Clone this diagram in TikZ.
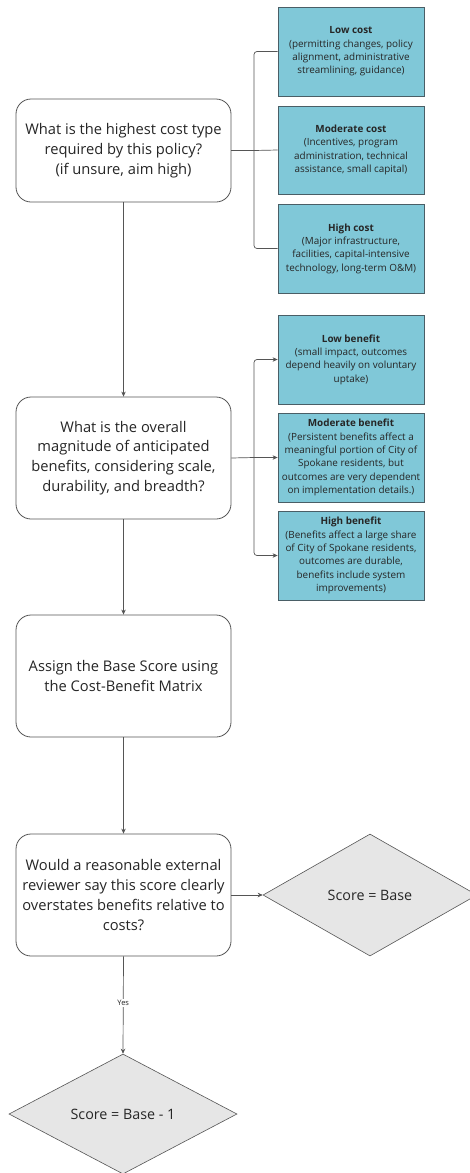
\documentclass[tikz,border=0pt]{standalone}
\usepackage{fontspec}
\setmainfont{Open Sans}
\usetikzlibrary{arrows.meta,shapes.geometric}
\definecolor{linec}{HTML}{555555}
\definecolor{boxfill}{HTML}{80C8D8}
\definecolor{boxline}{HTML}{4A5E66}
\definecolor{dfill}{HTML}{E6E6E6}
\definecolor{txt}{HTML}{262626}
\tikzset{
  qbox/.style={draw=linec, line width=0.8pt, rounded corners=15pt, fill=white, minimum width=215pt, align=center, text=txt, font=\fontsize{14.7}{19.8}\selectfont, inner sep=0pt},
  obox/.style={draw=boxline, line width=0.8pt, fill=boxfill, minimum width=146pt, align=center, text=txt, font=\fontsize{9.9}{13.3}\selectfont, inner sep=0pt},
  dia/.style={draw=linec, line width=0.6pt, fill=dfill, diamond, aspect=1.8, text=txt, font=\fontsize{14.3}{16}\selectfont, inner sep=0pt},
  conn/.style={draw=linec, line width=0.7pt},
  arr/.style={conn, -{Stealth[length=5pt,width=4.5pt]}},
}
\begin{document}
\begin{tikzpicture}[x=1pt,y=-1pt]
\useasboundingbox (0,0) rectangle (469,1173);
\fill[white] (0,0) rectangle (469,1173);
% question boxes
\node[qbox, minimum height=103pt] (q1) at (123.5,150.5) {What is the highest cost type\\required by this policy?\\(if unsure, aim high)};
\node[qbox, minimum height=122pt] (q2) at (123.5,458) {What is the overall\\magnitude of anticipated\\benefits, considering scale,\\durability, and breadth?};
\node[qbox, minimum height=122pt] (q3) at (123.5,676) {Assign the Base Score using\\the Cost-Benefit Matrix};
\node[qbox, minimum height=122pt] (q4) at (123.5,895) {Would a reasonable external\\reviewer say this score clearly\\overstates benefits relative to\\costs?};
% cost boxes
\node[obox, minimum height=89pt] (lc) at (351,51.5) {\textbf{Low cost}\\(permitting changes, policy\\alignment, administrative\\streamlining, guidance)};
\node[obox, minimum height=88pt] (mc) at (351,150) {\textbf{Moderate cost}\\(Incentives, program\\administration, technical\\assistance, small capital)};
\node[obox, minimum height=89pt] (hc) at (351,248.5) {\textbf{High cost}\\(Major infrastructure,\\facilities, capital-intensive\\technology, long-term O\&M)};
% benefit boxes
\node[obox, minimum height=89pt] (lb) at (351,359.5) {\textbf{Low benefit}\\(small impact, outcomes\\depend heavily on voluntary\\uptake)};
\node[obox, minimum height=89pt] (mb) at (351,457.5) {\textbf{Moderate benefit}\\(Persistent benefits affect a\\meaningful portion of City of\\Spokane residents, but\\outcomes are very dependent\\on implementation details.)};
\node[obox, minimum height=89pt] (hb) at (351,555.5) {\textbf{High benefit}\\(Benefits affect a large share\\of City of Spokane residents,\\outcomes are durable,\\benefits include system\\improvements)};
% diamonds
\node[dia, minimum width=214pt, minimum height=122pt] (d1) at (370,895) {Score = Base};
\node[dia, minimum width=228pt, minimum height=120pt] (d2) at (123,1114) {Score = Base - 1};
% cost bracket
\coordinate (j1) at (254,150.5);
\draw[conn] (q1.east) -- (j1);
\draw[conn, rounded corners=3pt] (j1) |- (lc.west);
\draw[conn, rounded corners=3pt] (j1) |- (hc.west);
\draw[conn] (j1) -- (mc.west);
% benefit bracket
\coordinate (j2) at (254,457.5);
\draw[conn] (q2.east) -- (j2);
\draw[arr, rounded corners=3pt] (j2) |- (lb.west);
\draw[arr, rounded corners=3pt] (j2) |- (hb.west);
\draw[arr] (j2) -- (mb.west);
% vertical flow
\draw[arr] (q1.south) -- (q2.north);
\draw[arr] (q2.south) -- (q3.north);
\draw[arr] (q3.south) -- (q4.north);
\draw[arr] (q4.east) -- (d1.west);
\draw[arr] (q4.south) -- node[fill=white, text=txt, font=\fontsize{7.5}{8}\selectfont, inner sep=1.5pt, pos=0.48] (yes) {Yes} (d2.north);
\end{tikzpicture}
\end{document}
